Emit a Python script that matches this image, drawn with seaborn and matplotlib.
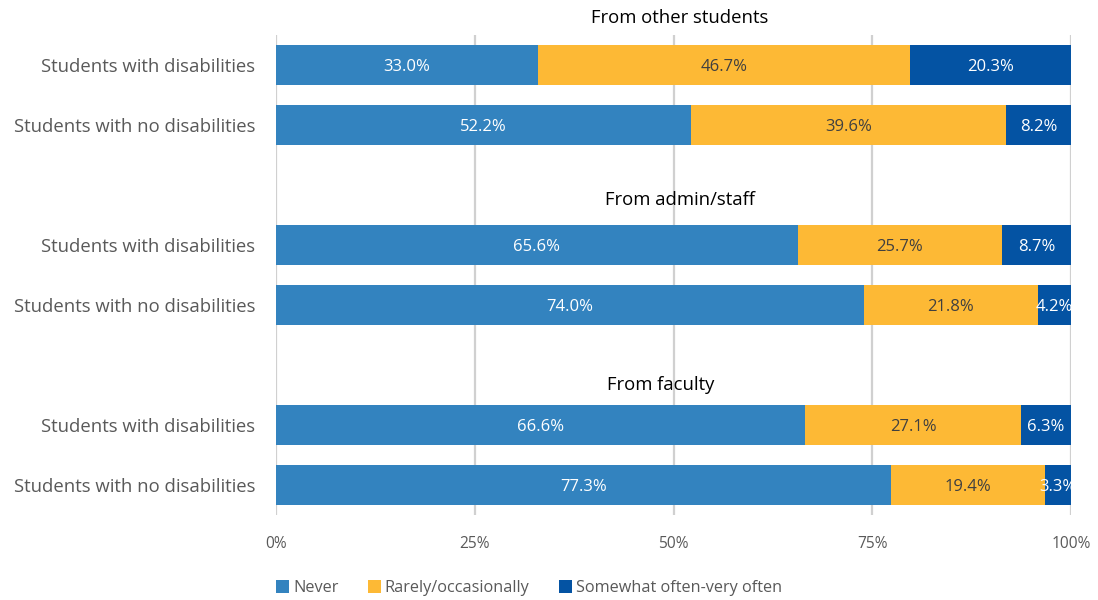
import matplotlib
matplotlib.use("Agg")
import matplotlib.pyplot as plt
import seaborn as sns
import pandas as pd
from matplotlib.patches import Patch

# Survey results: share of respondents by frequency of experience
groups = ["From other students", "From admin/staff", "From faculty"]
rows = ["Students with disabilities", "Students with no disabilities"]
never = [33.0, 52.2, 65.6, 74.0, 66.6, 77.3]
rarely = [46.7, 39.6, 25.7, 21.8, 27.1, 19.4]
often = [20.3, 8.2, 8.7, 4.2, 6.3, 3.3]
series = ["Never", "Rarely/occasionally", "Somewhat often-very often"]
x_ticks = [0, 0.25, 0.5, 0.75, 1.0]
x_tick_labels = ["0%", "25%", "50%", "75%", "100%"]

colors = ["#3383BF", "#FDB935", "#0453A3"]
label_colors = ["white", "#404040", "white"]

sns.set_theme(style="white")
plt.rcParams["font.family"] = ["Open Sans", "DejaVu Sans"]

# Rows sit in slots with an empty slot between groups
positions = [0, 1, 3, 4, 6, 7]
title_pos = [(0.508, -0.78), (0.508, 2.25), (0.484, 5.33)]

df = pd.DataFrame({
    "pos": positions,
    "label": rows * len(groups),
    "never": [v / 100 for v in never],
    "rarely": [v / 100 for v in rarely],
    "often": [v / 100 for v in often],
})
df["c1"] = df["never"]
df["c2"] = df["never"] + df["rarely"]
df["c3"] = df["c2"] + df["often"]

fig = plt.figure(figsize=(10.98, 6.0), dpi=100)
ax = fig.add_axes([276 / 1098, 1 - 515 / 600, 795 / 1098, 480 / 600])

# Draw cumulative totals back to front so each segment shows its own share
for col, color in zip(["c3", "c2", "c1"], colors[::-1]):
    sns.barplot(data=df, x=col, y="pos", orient="h", native_scale=True,
                color=color, width=0.67, errorbar=None, saturation=1,
                linewidth=0, ax=ax, zorder=3)

# Segment value labels
for _, r in df.iterrows():
    starts = [0, r["c1"], r["c2"]]
    vals = [r["never"], r["rarely"], r["often"]]
    for s, v, tc in zip(starts, vals, label_colors):
        ax.text(s + v / 2, r["pos"], f"{v * 100:.1f}%", ha="center",
                va="center_baseline", color=tc, fontsize=12, zorder=5)

# Group titles
for g, (tx, ty) in zip(groups, title_pos):
    ax.text(tx, ty, g, ha="center", va="center", fontsize=13.3,
            color="black", clip_on=False)

ax.set_xlim(0, 1)
ax.set_ylim(7.5, -0.5)
ax.set_xticks(x_ticks)
ax.set_xticklabels(x_tick_labels, fontsize=11.2, color="#595959")
ax.set_yticks(positions)
ax.set_yticklabels(df["label"], fontsize=13.3, color="#595959")
ax.tick_params(axis="both", length=0)
ax.tick_params(axis="x", pad=15)
ax.tick_params(axis="y", pad=15)
ax.set_xlabel("")
ax.set_ylabel("")
ax.grid(axis="x", color="#D0D0D0", linewidth=1.6, zorder=0)
ax.grid(axis="y", visible=False)
for side in ["top", "right", "bottom", "left"]:
    ax.spines[side].set_visible(False)

handles = [Patch(facecolor=c, edgecolor="none") for c in colors]
fig.legend(handles, series, loc="center", bbox_to_anchor=(529 / 1098, 1 - 588 / 600),
           ncol=3, frameon=False, fontsize=11.7, handlelength=0.8, handleheight=0.8,
           handletextpad=0.25, columnspacing=1.8, labelcolor="#595959")

fig.savefig("out.png", dpi=100)
